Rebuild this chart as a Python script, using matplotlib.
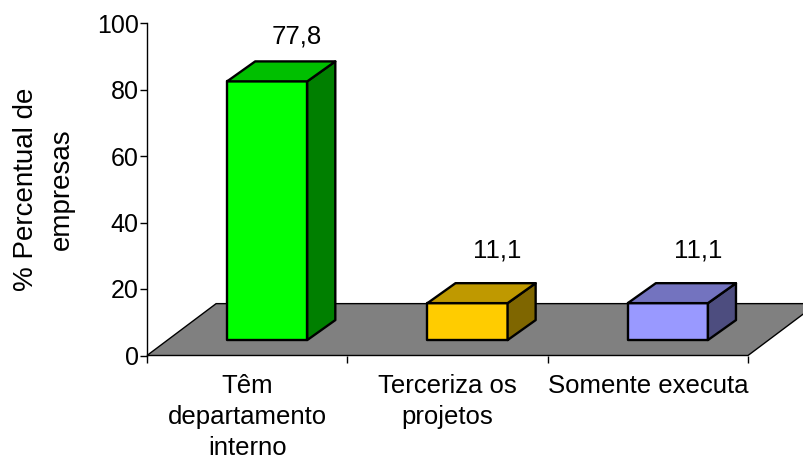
import matplotlib
matplotlib.use('Agg')
import matplotlib.pyplot as plt
from matplotlib.patches import Polygon

plt.rcParams['font.family'] = ['Liberation Sans', 'DejaVu Sans']

categories = ['Têm\ndepartamento\ninterno', 'Terceriza os\nprojetos', 'Somente executa']
values = [77.8, 11.1, 11.1]
value_labels = ['77,8', '11,1', '11,1']
front_colors = ['#00ff00', '#ffcc00', '#9999ff']
top_colors = ['#00bf00', '#bf9900', '#7373bf']
side_colors = ['#007f00', '#7f6600', '#4d4d7f']
yticks = [0, 20, 40, 60, 80, 100]

W, H = 804, 461
fig = plt.figure(figsize=(W / 100, H / 100), dpi=100)
# axes box from pixel positions of the reference
left, right, top, bottom = 147, 748, 23, 355.5
ax = fig.add_axes([left / W, 1 - bottom / H, (right - left) / W, (bottom - top) / H])
ax.set_xlim(0, 3)
ax.set_ylim(0, 100)
ax.patch.set_visible(False)

# fake 3d depth in data units
bar_w = 0.4
base = 4.65
dx = 0.14
dy = 6.0

# floor
floor = Polygon([(0, 0), (3, 0), (3.345, 15.6), (0.345, 15.6)], closed=True,
                facecolor='#808080', edgecolor='black', linewidth=1, clip_on=False, zorder=1)
ax.add_patch(floor)

for i, v in enumerate(values):
    x0 = i + 0.4
    x1 = x0 + bar_w
    y0 = base
    y1 = base + v
    kw = dict(closed=True, edgecolor='black', linewidth=1.7, joinstyle='round', clip_on=False, zorder=3)
    ax.add_patch(Polygon([(x0, y0), (x1, y0), (x1, y1), (x0, y1)], facecolor=front_colors[i], **kw))
    ax.add_patch(Polygon([(x1, y0), (x1 + dx, y0 + dy), (x1 + dx, y1 + dy), (x1, y1)], facecolor=side_colors[i], **kw))
    ax.add_patch(Polygon([(x0, y1), (x1, y1), (x1 + dx, y1 + dy), (x0 + dx, y1 + dy)], facecolor=top_colors[i], **kw))
    # small bars have their label a bit higher in the original
    off = 32.5 if v > 50 else 38
    ax.annotate(value_labels[i], (x0 + bar_w / 2, y1), xytext=(21.5, off), textcoords='offset points',
                ha='center', va='center', fontsize=18.5, color='black', zorder=4)

for s in ['top', 'right']:
    ax.spines[s].set_visible(False)
ax.spines['left'].set_linewidth(1)
ax.spines['bottom'].set_visible(False)
ax.set_yticks(yticks)
ax.set_yticklabels([str(t) for t in yticks], fontsize=18)
ax.tick_params(axis='y', length=5, width=1, pad=1)
ax.set_xticks([0, 1, 2, 3])
ax.set_xticklabels([])
ax.tick_params(axis='x', length=5, width=1)
for i, c in enumerate(categories):
    ax.text(i + 0.5, -5.6, c, ha='center', va='top', fontsize=18.5, linespacing=1.36)

fig.text(44 / W, 1 - 189 / H, '% Percentual de\nempresas', rotation=90, ha='center', va='center',
         fontsize=20, linespacing=1.5, multialignment='center')

fig.savefig('out.png', dpi=100, facecolor='white')
